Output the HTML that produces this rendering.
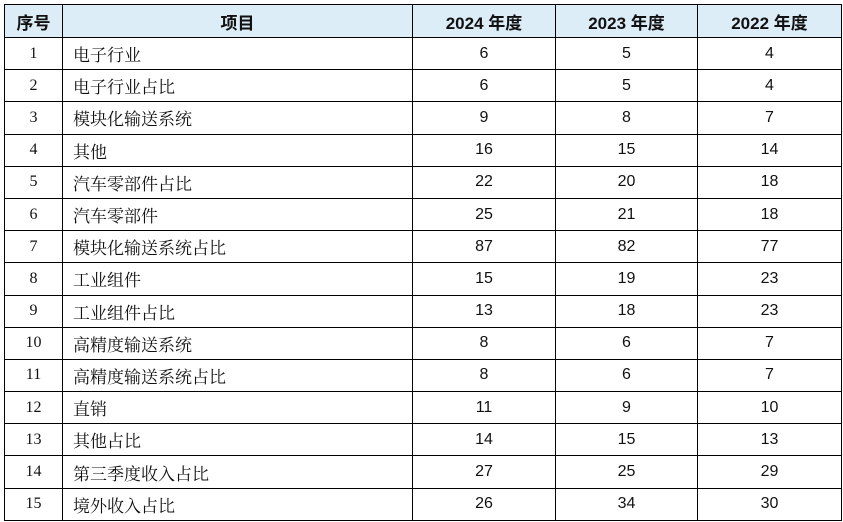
<!DOCTYPE html>
<html><head><meta charset="utf-8"><style>
html,body{margin:0;padding:0;background:#fff;width:843px;height:522px;overflow:hidden}
table{position:absolute;left:4px;top:4px;border-collapse:collapse;table-layout:fixed;width:837px}
td,th{border:1px solid #000;padding:0;height:31.2px;font-size:16px;color:#111}
th{height:32px;background:#dcedf7;font-family:"Liberation Sans","Noto Sans CJK SC",sans-serif;font-weight:bold;font-size:17px;text-align:center}
td.n{text-align:center;font-family:"Liberation Serif",serif}
td.t{text-align:left;padding-left:10px;font-family:"Liberation Serif","Noto Serif CJK SC",serif;font-size:17px}
td.v{text-align:center;font-family:"Liberation Sans",sans-serif}
</style></head><body>
<table>
<colgroup><col style="width:58px"><col style="width:350px"><col style="width:143px"><col style="width:142px"><col style="width:144px"></colgroup>
<tr><th>序号</th><th>项目</th><th>2024 年度</th><th>2023 年度</th><th>2022 年度</th></tr>
<tr><td class="n">1</td><td class="t">电子行业</td><td class="v">6</td><td class="v">5</td><td class="v">4</td></tr>
<tr><td class="n">2</td><td class="t">电子行业占比</td><td class="v">6</td><td class="v">5</td><td class="v">4</td></tr>
<tr><td class="n">3</td><td class="t">模块化输送系统</td><td class="v">9</td><td class="v">8</td><td class="v">7</td></tr>
<tr><td class="n">4</td><td class="t">其他</td><td class="v">16</td><td class="v">15</td><td class="v">14</td></tr>
<tr><td class="n">5</td><td class="t">汽车零部件占比</td><td class="v">22</td><td class="v">20</td><td class="v">18</td></tr>
<tr><td class="n">6</td><td class="t">汽车零部件</td><td class="v">25</td><td class="v">21</td><td class="v">18</td></tr>
<tr><td class="n">7</td><td class="t">模块化输送系统占比</td><td class="v">87</td><td class="v">82</td><td class="v">77</td></tr>
<tr><td class="n">8</td><td class="t">工业组件</td><td class="v">15</td><td class="v">19</td><td class="v">23</td></tr>
<tr><td class="n">9</td><td class="t">工业组件占比</td><td class="v">13</td><td class="v">18</td><td class="v">23</td></tr>
<tr><td class="n">10</td><td class="t">高精度输送系统</td><td class="v">8</td><td class="v">6</td><td class="v">7</td></tr>
<tr><td class="n">11</td><td class="t">高精度输送系统占比</td><td class="v">8</td><td class="v">6</td><td class="v">7</td></tr>
<tr><td class="n">12</td><td class="t">直销</td><td class="v">11</td><td class="v">9</td><td class="v">10</td></tr>
<tr><td class="n">13</td><td class="t">其他占比</td><td class="v">14</td><td class="v">15</td><td class="v">13</td></tr>
<tr><td class="n">14</td><td class="t">第三季度收入占比</td><td class="v">27</td><td class="v">25</td><td class="v">29</td></tr>
<tr><td class="n">15</td><td class="t">境外收入占比</td><td class="v">26</td><td class="v">34</td><td class="v">30</td></tr>
</table>
</body></html>
